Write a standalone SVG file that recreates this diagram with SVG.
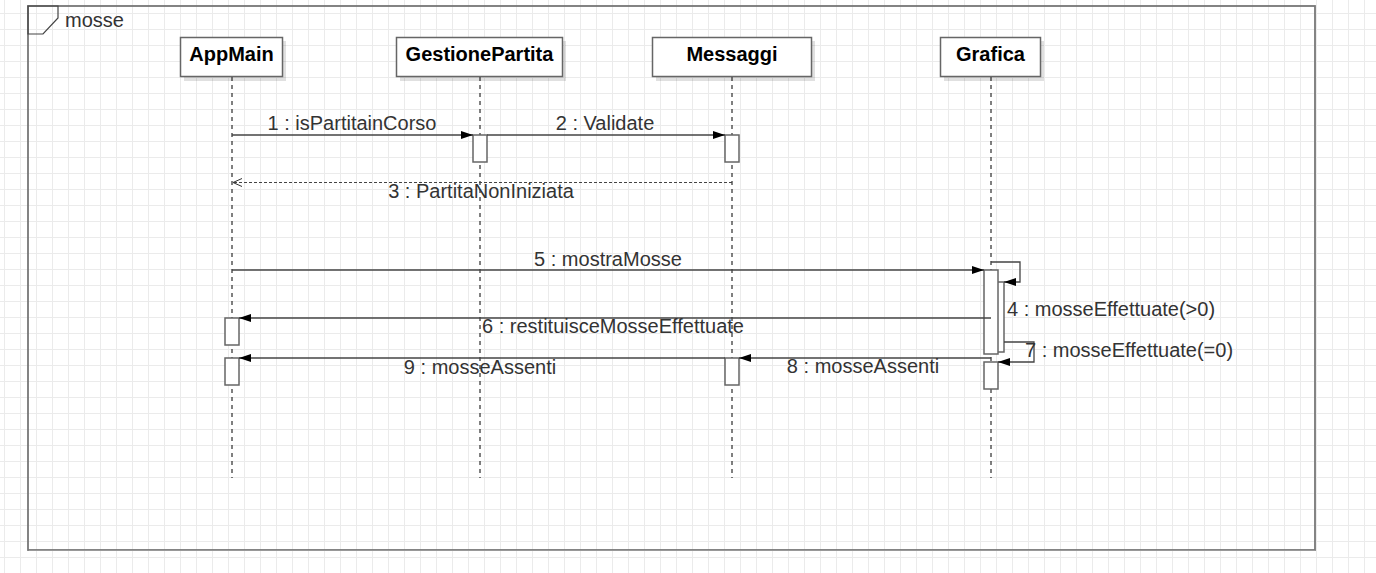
<svg xmlns="http://www.w3.org/2000/svg" width="1376" height="573" viewBox="0 0 1376 573">
<defs>
<pattern id="grid" x="4" y="-3" width="16" height="16" patternUnits="userSpaceOnUse">
<path d="M0.5 0 V16 M0 0.5 H16" stroke="#ebebeb" stroke-width="1" fill="none"/>
</pattern>
<marker id="filled" viewBox="0 0 12 8" refX="12" refY="4" markerWidth="12" markerHeight="8" markerUnits="userSpaceOnUse" orient="auto">
<path d="M0 0 L12 4 L0 8 Z" fill="#000"/>
</marker>
<marker id="open" viewBox="0 0 10 10" refX="9" refY="5" markerWidth="10" markerHeight="10" markerUnits="userSpaceOnUse" orient="auto">
<path d="M0 1 L9 5 L0 9" fill="none" stroke="#333" stroke-width="1"/>
</marker>
</defs>
<style>
.hdr{fill:#fff;stroke:#666;stroke-width:1.5}
.shadow{fill:#000;opacity:0.12}
.htxt{font-family:"Liberation Sans",Arial,sans-serif;font-weight:bold;font-size:20px;fill:#000;text-anchor:middle}
.lbl{font-family:"Liberation Sans",Arial,sans-serif;font-size:20px;fill:#333}
.mid{text-anchor:middle}
.life{stroke:#000;stroke-width:1;stroke-dasharray:4 4;fill:none}
.act{fill:#fff;stroke:#666;stroke-width:1.5}
.msg{stroke:#444;stroke-width:1.3;fill:none}
.ret{stroke:#444;stroke-width:1;stroke-dasharray:3 2;fill:none}
</style>
<rect x="0" y="0" width="1376" height="573" fill="#fff"/>
<rect x="0" y="0" width="1376" height="573" fill="url(#grid)"/>

<g id="frame">
<rect x="28" y="6" width="1287" height="544" fill="none" stroke="#777" stroke-width="1.8"/>
<line x1="29" y1="550.5" x2="1315" y2="550.5" stroke="#999" stroke-width="1.2"/>
<path d="M28 6 H58 V18 L43 34 H28 Z" fill="none" stroke="#444" stroke-width="1.2"/>
<text class="lbl" x="65" y="27">mosse</text>
</g>

<g id="lifelines">
<line class="life" x1="232" y1="77" x2="232" y2="478"/>
<line class="life" x1="480" y1="77" x2="480" y2="478"/>
<line class="life" x1="732" y1="77" x2="732" y2="478"/>
<line class="life" x1="991" y1="77" x2="991" y2="478"/>
</g>

<g id="AppMain">
<rect class="shadow" x="184" y="41" width="102" height="40"/>
<rect class="hdr" x="180.5" y="37.5" width="102" height="39"/>
<text class="htxt" x="231.5" y="61">AppMain</text>
<rect class="act" x="225" y="318" width="14" height="27"/>
<rect class="act" x="225" y="358" width="14" height="27"/>
</g>

<g id="GestionePartita">
<rect class="shadow" x="400" y="41" width="166" height="40"/>
<rect class="hdr" x="396.5" y="37.5" width="166" height="39"/>
<text class="htxt" x="479.5" y="61">GestionePartita</text>
<rect class="act" x="473" y="135" width="14" height="27"/>
</g>

<g id="Messaggi">
<rect class="shadow" x="656" y="41" width="159" height="40"/>
<rect class="hdr" x="652.5" y="37.5" width="159" height="39"/>
<text class="htxt" x="732" y="61">Messaggi</text>
<rect class="act" x="725" y="135" width="14" height="27"/>
<rect class="act" x="725" y="358" width="14" height="27"/>
</g>

<g id="Grafica">
<rect class="shadow" x="944" y="41" width="100" height="40"/>
<rect class="hdr" x="940.5" y="37.5" width="100" height="39"/>
<text class="htxt" x="990.5" y="61">Grafica</text>
<rect class="act" x="990" y="282" width="14" height="70"/>
<rect class="act" x="984" y="270" width="14" height="84"/>
<rect class="act" x="984" y="362" width="14" height="27"/>
</g>

<g id="connectors">
<line class="msg" x1="232" y1="135" x2="473" y2="135" marker-end="url(#filled)"/>
<text class="lbl mid" x="352" y="130">1 : isPartitainCorso</text>

<line class="msg" x1="487" y1="135" x2="725" y2="135" marker-end="url(#filled)"/>
<text class="lbl mid" x="605" y="130">2 : Validate</text>

<line class="ret" x1="732" y1="182.5" x2="233" y2="182.5" marker-end="url(#open)"/>
<text class="lbl mid" x="481" y="198">3 : PartitaNonIniziata</text>

<line class="msg" x1="232" y1="270" x2="984" y2="270" marker-end="url(#filled)"/>
<text class="lbl mid" x="608" y="266">5 : mostraMosse</text>

<path class="msg" d="M991 262 H1020 V282 H1004" marker-end="url(#filled)"/>
<text class="lbl" x="1007" y="316">4 : mosseEffettuate(&gt;0)</text>

<line class="msg" x1="991" y1="318" x2="239" y2="318" marker-end="url(#filled)"/>
<text class="lbl mid" x="613" y="333">6 : restituisceMosseEffettuate</text>

<path class="msg" d="M1004 342 H1034 V362 H998" marker-end="url(#filled)"/>
<text class="lbl" x="1025" y="357">7 : mosseEffettuate(=0)</text>

<line class="msg" x1="991" y1="358" x2="739" y2="358" marker-end="url(#filled)"/>
<text class="lbl mid" x="863" y="373">8 : mosseAssenti</text>

<line class="msg" x1="725" y1="358" x2="239" y2="358" marker-end="url(#filled)"/>
<text class="lbl mid" x="480" y="374">9 : mosseAssenti</text>
</g>
</svg>
